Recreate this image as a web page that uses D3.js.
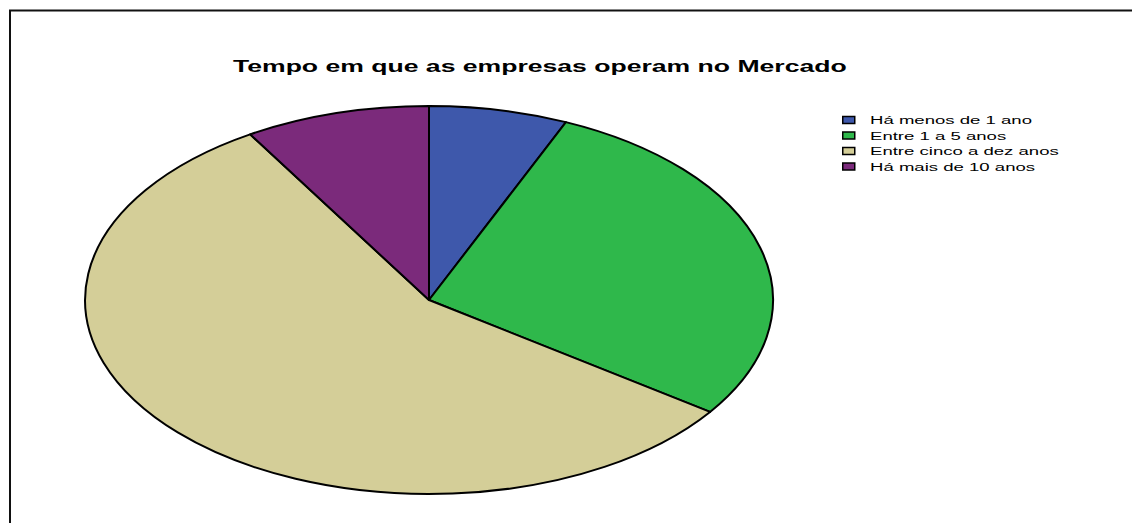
<!DOCTYPE html>
<html>
<head>
<meta charset="utf-8">
<script src="https://cdn.jsdelivr.net/npm/d3@7"></script>
<style>
  html, body { margin: 0; padding: 0; background: #fff; }
  svg { display: block; }
</style>
</head>
<body>
<svg id="chart" width="1132" height="523"></svg>
<script>
// Categories and company counts per category
const categories = ["Há menos de 1 ano", "Entre 1 a 5 anos", "Entre cinco a dez anos", "Há mais de 10 anos"];
const counts = [3, 13, 26, 4];
const colors = ["#3e58ab", "#2fb84b", "#d4ce98", "#7b2a7b"];
const title = "Tempo em que as empresas operam no Mercado";

const svg = d3.select("#chart");
const font = "Arial, 'Liberation Sans', sans-serif";

// Frame (top and left edges)
svg.append("path")
  .attr("d", "M10,523 V10.5 H1132")
  .attr("fill", "none")
  .attr("stroke", "#111")
  .attr("stroke-width", 2);

// Title, stretched horizontally
const titleG = svg.append("g");
const titleText = titleG.append("text")
  .attr("font-family", font)
  .attr("font-weight", "bold")
  .attr("font-size", 17)
  .attr("fill", "#000")
  .text(title);
const tw = titleText.node().getComputedTextLength();
titleG.attr("transform", `translate(233,72) scale(${614 / tw},1)`);

// Elliptical pie: unit arcs scaled to the ellipse radii
const cx = 429, cy = 300, rx = 344, ry = 194;
const pie = d3.pie().sort(null).value(d => d.value);
const arc = d3.arc().innerRadius(0).outerRadius(1);
const data = categories.map((c, i) => ({ name: c, value: counts[i], color: colors[i] }));

const pieG = svg.append("g")
  .attr("transform", `translate(${cx},${cy}) scale(${rx},${ry})`);
pieG.selectAll("path")
  .data(pie(data))
  .join("path")
  .attr("d", arc)
  .attr("fill", d => d.data.color)
  .attr("stroke", "#000")
  .attr("stroke-width", 2)
  .attr("stroke-linejoin", "round")
  .attr("vector-effect", "non-scaling-stroke");

// Legend
const legend = svg.append("g").attr("transform", "translate(842,120)");
const rowStep = 15.5;
const rows = legend.selectAll("g.row")
  .data(data)
  .join("g")
  .attr("class", "row")
  .attr("transform", (d, i) => `translate(0,${i * rowStep})`);
rows.append("rect")
  .attr("x", 0.75).attr("y", -3.5)
  .attr("width", 12).attr("height", 7)
  .attr("fill", d => d.color)
  .attr("stroke", "#000")
  .attr("stroke-width", 1.5);
const labelGs = rows.append("g");
const labels = labelGs.append("text")
  .attr("font-family", font)
  .attr("font-size", 11)
  .attr("fill", "#000")
  .text(d => d.name);
const maxW = d3.max(labels.nodes(), n => n.getComputedTextLength());
const lsx = 189 / maxW;
labelGs.attr("transform", `translate(28,4) scale(${lsx},1)`);
</script>
</body>
</html>
